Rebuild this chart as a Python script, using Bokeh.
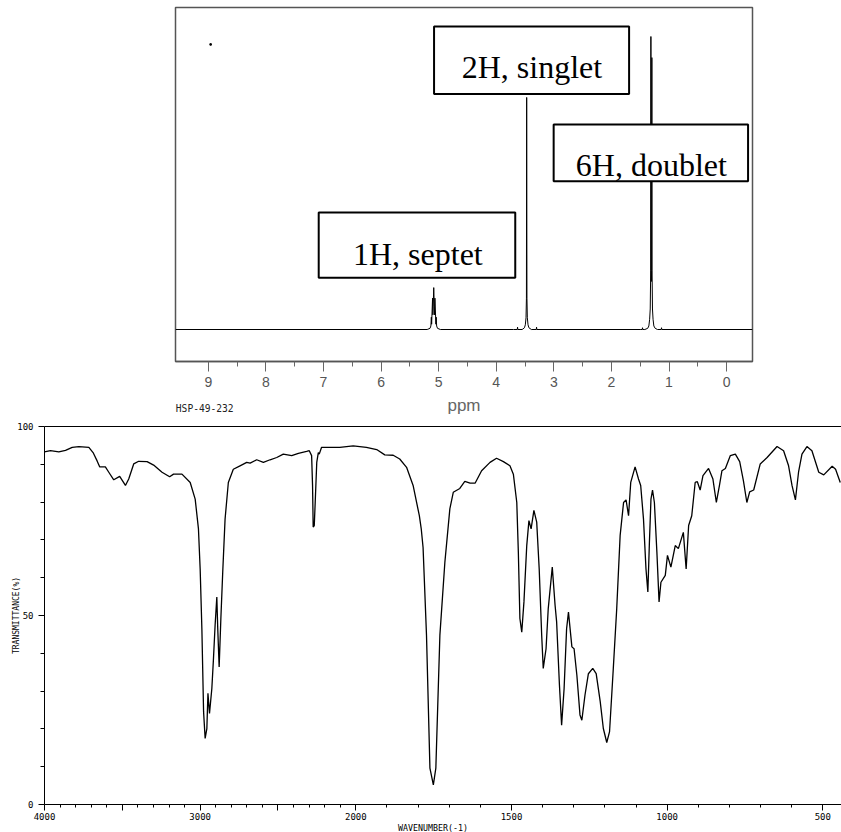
import math
from bokeh.plotting import figure
from bokeh.models import Range1d, FixedTicker, LinearAxis
from bokeh.embed import file_html
from bokeh.resources import INLINE
from bokeh.core.properties import value

# ---------------- 1H NMR data (ppm, relative intensity) ----------------
nmr_ppm = [9.57, 5.20, 5.15, 5.135, 5.127, 5.122, 5.106, 5.100, 5.095, 5.0855,
           5.076, 5.071, 5.065, 5.048, 5.043, 5.035, 5.02, 4.97,
           3.70, 3.635, 3.63, 3.625, 3.55, 3.51, 3.495, 3.483, 3.476, 3.4715,
           3.467, 3.46, 3.448, 3.433, 3.39, 3.305, 3.30, 3.295,
           1.50, 1.465, 1.46, 1.455, 1.42, 1.37, 1.35, 1.336, 1.326, 1.318,
           1.3145, 1.311, 1.306, 1.302, 1.2975, 1.294, 1.287, 1.277, 1.263,
           1.24, 1.20, 1.135, 1.13, 1.125, -0.45]
nmr_int = [0.0, 0.0, 0.4, 1.2, 4.2, 1.8, 10.7, 5.0, 8.0, 14.3,
           8.0, 5.0, 10.7, 1.8, 4.2, 1.2, 0.4, 0.0,
           0.0, 0.0, 0.8, 0.0, 0.0, 0.6, 1.6, 4.0, 10.7, 79.2,
           10.7, 4.0, 1.6, 0.6, 0.0, 0.0, 0.8, 0.0,
           0.0, 0.0, 0.6, 0.0, 0.0, 0.4, 1.2, 3.5, 7.0, 20.0,
           100.0, 20.0, 16.4, 20.0, 92.8, 20.0, 7.0, 3.5, 1.2,
           0.4, 0.0, 0.0, 0.6, 0.0, 0.0]
nmr_dot_ppm = [8.96]
nmr_dot_int = [97.3]
nmr_major_ticks = [0, 1, 2, 3, 4, 5, 6, 7, 8, 9]
nmr_minor_ticks = [0.5, 1.5, 2.5, 3.5, 4.5, 5.5, 6.5, 7.5, 8.5]
nmr_annotations = ["1H, septet", "2H, singlet", "6H, doublet"]
spectrum_code = "HSP-49-232"

# ---------------- IR data (wavenumber cm-1, transmittance %) ----------------
ir_wn = [4000, 3962, 3908, 3865, 3822, 3779, 3715, 3688, 3662, 3645, 3609, 3587,
         3555, 3517, 3480, 3459, 3427, 3395, 3341, 3299, 3245, 3196, 3171, 3117,
         3064, 3032, 3011, 3000, 2989, 2978, 2968, 2957, 2950, 2940, 2925, 2915,
         2904, 2893, 2887, 2878, 2867, 2855, 2840, 2819, 2787, 2744, 2701, 2679,
         2637, 2594, 2551, 2508, 2466, 2412, 2369, 2316, 2299, 2284, 2278, 2274,
         2267, 2261, 2251, 2241, 2235, 2220, 2188, 2103, 2017, 1966, 1933, 1907,
         1880, 1859, 1837, 1816, 1796, 1790, 1784, 1773, 1762, 1751, 1743, 1730,
         1714, 1698, 1687, 1666, 1650, 1633, 1617, 1596, 1569, 1548, 1526, 1505,
         1494, 1483, 1478, 1473, 1467, 1460, 1451, 1444, 1437, 1428, 1419, 1411,
         1403, 1398, 1389, 1382, 1369, 1360, 1355, 1346, 1339, 1331, 1323, 1317,
         1306, 1299, 1290, 1280, 1274, 1264, 1253, 1239, 1228, 1215, 1205, 1194,
         1185, 1173, 1162, 1151, 1140, 1132, 1124, 1117, 1103, 1092, 1085, 1076,
         1068, 1062, 1057, 1052, 1047, 1041, 1033, 1026, 1020, 1006, 999, 988,
         974, 964, 948, 939, 931, 921, 910, 903, 894, 885, 867, 853,
         842, 832, 824, 813, 797, 781, 767, 755, 744, 735, 722, 701,
         679, 647, 626, 610, 599, 588, 578, 567, 551, 535, 513, 497,
         470, 459, 444]
ir_t = [93.3, 93.6, 93.3, 93.7, 94.5, 94.7, 94.5, 93.1, 90.9, 89.3, 89.3, 87.9,
        85.9, 86.8, 84.4, 86.1, 90.1, 90.8, 90.7, 89.8, 87.9, 86.7, 87.4, 87.4,
        85.2, 80.8, 72.9, 62.3, 46.5, 24.5, 17.5, 20.1, 29.4, 24.1, 30.7, 38.2,
        47.4, 54.9, 46.5, 36.4, 49.2, 61.5, 75.5, 85.2, 88.7, 89.6, 90.5, 90.3,
        91.2, 90.5, 91.2, 91.8, 92.7, 92.3, 92.9, 93.4, 93.6, 92.3, 84.4, 73.4,
        73.8, 79.9, 90.5, 93.1, 92.7, 94.5, 94.5, 94.5, 94.9, 94.5, 93.9, 92.5,
        92.4, 91.4, 89.2, 84.4, 76.4, 73.0, 68.0, 44.8, 9.6, 5.2, 9.6, 44.8,
        64.1, 78.2, 82.6, 83.6, 85.5, 85.0, 85.0, 88.3, 90.5, 91.6, 90.7, 89.6,
        87.4, 79.9, 66.8, 49.2, 45.6, 53.6, 68.5, 75.1, 72.9, 77.8, 74.7, 62.3,
        44.8, 36.0, 41.2, 51.8, 62.8, 52.7, 48.3, 31.6, 21.0, 30.7, 46.5, 50.9,
        41.7, 41.2, 34.2, 23.7, 22.3, 28.9, 34.6, 36.0, 34.6, 27.2, 20.1, 16.4,
        19.3, 36.0, 51.8, 71.2, 79.9, 80.6, 76.4, 85.2, 89.3, 86.1, 84.4, 75.5,
        62.3, 56.2, 69.4, 80.8, 83.2, 79.9, 66.8, 53.6, 58.8, 60.6, 65.9, 62.8,
        68.5, 67.7, 72.0, 62.3, 73.8, 76.4, 85.2, 85.4, 83.2, 87.0, 88.9, 86.1,
        79.9, 84.4, 88.3, 88.9, 92.3, 92.7, 90.7, 85.6, 79.9, 82.7, 83.2, 90.1,
        91.8, 94.7, 93.6, 89.6, 84.4, 80.6, 87.9, 92.7, 94.7, 93.6, 87.9, 87.2,
        89.5, 88.7, 85.2]
ir_major_wn = [4000, 3500, 3000, 2500, 2000, 1500, 1000, 500]
ir_major_labels = ["4000", "", "3000", "", "2000", "1500", "1000", "500"]
ir_minor_wn = [w for w in range(3900, 400, -100) if w not in ir_major_wn]
ir_y_major = [0, 50, 100]
ir_y_minor = [10, 20, 30, 40, 60, 70, 80, 90]


def wn_pos(w):
    # IR chart: scale halves above 2000 cm-1 (axis scale change)
    return w if w <= 2000 else 2000 + (w - 2000) / 2.0


# ---------------- NMR figure ----------------
nmr = figure(frame_width=577, frame_height=354, min_border_left=175,
             min_border_right=89, min_border_top=7, min_border_bottom=55,
             x_range=Range1d(9.57, -0.45), y_range=Range1d(-10.92, 109.9),
             output_backend="svg", toolbar_location=None, y_axis_location=None)
nmr.grid.visible = False
nmr.outline_line_color = "#555555"
nmr.outline_line_width = 1.5
nmr.background_fill_color = "white"
nmr.border_fill_color = "white"
ax = nmr.xaxis[0]
ax.ticker = FixedTicker(ticks=nmr_major_ticks, minor_ticks=nmr_minor_ticks)
ax.axis_line_color = "#555555"
ax.axis_line_width = 1.5
ax.major_tick_line_color = "#666666"
ax.minor_tick_line_color = "#666666"
ax.major_tick_out = 10
ax.major_tick_in = 0
ax.minor_tick_out = 5
ax.minor_tick_in = 0
ax.major_label_standoff = 5
ax.major_label_text_font = "Liberation Sans"
ax.major_label_text_font_size = "14px"
ax.major_label_text_color = "#555555"
ax.axis_label = "ppm"
ax.axis_label_standoff = 6
ax.axis_label_text_font = "Liberation Sans"
ax.axis_label_text_font_size = "17px"
ax.axis_label_text_font_style = "normal"
ax.axis_label_text_color = "#666666"

# second (label-only) axis carrying the spectrum code under the left corner
code_pos = 9.0625
code_axis = LinearAxis(ticker=FixedTicker(ticks=[code_pos], minor_ticks=[]),
                       major_label_overrides={code_pos: spectrum_code},
                       axis_line_color=None, major_tick_line_color=None,
                       minor_tick_line_color=None, major_tick_out=0,
                       major_tick_in=0, minor_tick_out=0, minor_tick_in=0,
                       major_label_standoff=-15,
                       major_label_text_font="DejaVu Sans Mono",
                       major_label_text_font_size="9.6px",
                       major_label_text_color="#222222")
nmr.add_layout(code_axis, "below")

nmr.line(nmr_ppm, nmr_int, line_color="black", line_width=1)
nmr.scatter(nmr_dot_ppm, nmr_dot_int, marker="square", size=1.5, color="black")

# annotation boxes (left, right, top, bottom in ppm / intensity units)
box_left = [7.083, 5.080, 3.003]
box_right = [3.670, 1.693, -0.373]
box_top = [39.9, 103.4, 70.0]
box_bottom = [17.7, 80.4, 50.6]
text_x = [5.361, 3.380, 1.306]
text_y = [25.8, 89.5, 56.1]
nmr.quad(left=box_left, right=box_right, top=box_top, bottom=box_bottom,
         fill_color="white", line_color="black", line_width=2)
nmr.text(x=text_x, y=text_y, text=nmr_annotations,
         text_font=value("Liberation Serif"), text_font_size="32px",
         text_align="center", text_baseline="alphabetic", text_color="black")

# ---------------- IR figure ----------------
ir = figure(frame_width=797, frame_height=378, min_border_left=44,
            min_border_right=0, min_border_top=9, min_border_bottom=29,
            x_range=Range1d(3000, 440), y_range=Range1d(0, 100),
            output_backend="svg", toolbar_location=None)
ir.grid.visible = False
ir.outline_line_color = None
ir.background_fill_color = "white"
ir.border_fill_color = "white"

xa = ir.xaxis[0]
xa.ticker = FixedTicker(ticks=[wn_pos(w) for w in ir_major_wn],
                        minor_ticks=[wn_pos(w) for w in ir_minor_wn])
xa.major_label_overrides = {wn_pos(w): lab for w, lab in zip(ir_major_wn, ir_major_labels)}
xa.axis_line_color = "black"
xa.major_tick_line_color = "black"
xa.minor_tick_line_color = "black"
xa.major_tick_out = 6
xa.major_tick_in = 0
xa.minor_tick_out = 3
xa.minor_tick_in = 0
xa.major_label_standoff = 2
xa.major_label_text_font = "DejaVu Sans Mono"
xa.major_label_text_font_size = "9px"
xa.major_label_text_color = "black"
xa.axis_label = "WAVENUMBER(-1)" + "\u00a0" * 4
xa.axis_label_standoff = 0
xa.axis_label_text_font = "DejaVu Sans Mono"
xa.axis_label_text_font_size = "8.3px"
xa.axis_label_text_font_style = "normal"
xa.axis_label_text_color = "black"

ya = ir.yaxis[0]
ya.ticker = FixedTicker(ticks=ir_y_major, minor_ticks=ir_y_minor)
ya.axis_line_color = "black"
ya.major_tick_line_color = "black"
ya.minor_tick_line_color = "black"
ya.major_tick_out = 6
ya.major_tick_in = 0
ya.minor_tick_out = 4
ya.minor_tick_in = 0
ya.major_label_standoff = 5
ya.major_label_text_font = "DejaVu Sans Mono"
ya.major_label_text_font_size = "9px"
ya.major_label_text_color = "black"
ya.axis_label = "TRANSMITTANCE(%)"
ya.axis_label_standoff = -7
ya.axis_label_text_font = "DejaVu Sans Mono"
ya.axis_label_text_font_size = "8px"
ya.axis_label_text_font_style = "normal"
ya.axis_label_text_color = "black"

top_axis = LinearAxis(ticker=FixedTicker(ticks=[]), major_tick_out=0,
                      major_tick_in=0, minor_tick_out=0, minor_tick_in=0,
                      major_label_text_font_size="0px", axis_line_color="black")
ir.add_layout(top_axis, "above")

ir.line([wn_pos(w) for w in ir_wn], ir_t, line_color="black", line_width=1.3)

open("out.html", "w").write(file_html([nmr, ir], INLINE, title="NMR and IR spectra"))
